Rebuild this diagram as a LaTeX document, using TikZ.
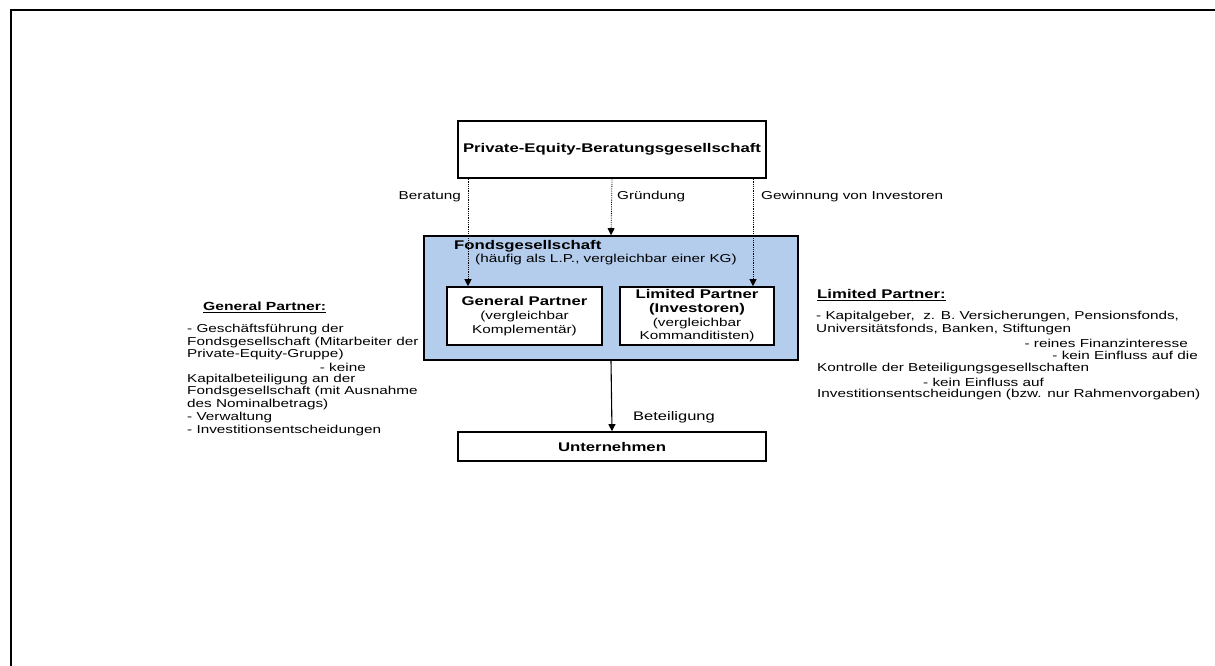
\documentclass[tikz,border=0pt]{standalone}
\usepackage{fontspec}
\setmainfont[FakeStretch=1.33]{Liberation Sans}
\usetikzlibrary{arrows.meta}
\definecolor{fondsblue}{RGB}{180,205,236}
\newcommand\fsn{\fontsize{11.5}{12.6}\selectfont}
\newcommand\fsb{\fontsize{12.6}{14}\selectfont\bfseries}
\begin{document}
\begin{tikzpicture}[x=1pt,y=-1pt,
  boxst/.style={draw=black,line width=1.6pt,inner sep=0pt,minimum width=#1},
  txt/.style={inner sep=0pt,font=\fsn},
  dotarrow/.style={densely dotted,line width=0.8pt,-{Triangle[width=7pt,length=7pt]}},
  solarrow/.style={line width=1.1pt,-{Triangle[width=7pt,length=7pt]}}]
\useasboundingbox (0,0) rectangle (1215,666);
\draw[line width=2pt] (11,666) -- (11,10) -- (1215,10);
% boxes
\node[boxst=308pt,minimum height=57pt,font=\fsb] (pe) at (612,149.5) {Private-Equity-Beratungsgesellschaft};
\node[boxst=374pt,minimum height=124pt,fill=fondsblue] (fonds) at (611,298) {};
\node[boxst=155pt,minimum height=58pt,fill=white,align=center,font=\fsn] (gp) at (524.5,316)
  {{\fsb General Partner}\\[1.5pt](vergleichbar\\[1.5pt]Komplement\"ar)};
\node[boxst=154pt,minimum height=58pt,fill=white,align=center,font=\fsn] (lp) at (697,316)
  {{\fsb Limited Partner}\\[1pt]{\fsb (Investoren)}\\[1pt](vergleichbar\\[1pt]Kommanditisten)};
\node[boxst=308pt,minimum height=29pt,font=\fsb] (unt) at (612,446.5) {Unternehmen};
% fonds title
\node[inner sep=0pt,font=\fsb,anchor=west] (ftitle) at (454,246) {Fondsgesellschaft};
\node[txt,anchor=west] (fsub) at (475,260) {(h\"aufig als L.P., vergleichbar einer KG)};
% connectors
\coordinate (xb) at (468,0);
\coordinate (xg) at (753,0);
\draw[dotarrow] (xb |- pe.south) -- (xb |- gp.north);
\draw[dotarrow] (pe.south) -- (fonds.north);
\draw[dotarrow] (xg |- pe.south) -- (xg |- lp.north);
\draw[solarrow] (fonds.south) -- (unt.north);
% labels
\node[txt,anchor=east] (lber) at (461,197) {Beratung};
\node[txt,anchor=west] (lgru) at (617,197) {Gr\"undung};
\node[txt,anchor=west] (lgew) at (761,197) {Gewinnung von Investoren};
\node[inner sep=0pt,font=\fontsize{12.4}{14}\selectfont,anchor=west] (lbet) at (633,417) {Beteiligung};
% left annotation
\node[inner sep=0pt,font=\fontsize{11.8}{13}\selectfont\bfseries,anchor=west] (gph) at (203,307) {\underline{General Partner:}};
\node[txt,anchor=west] (g1) at (187,330) {- Gesch\"aftsf\"uhrung der};
\node[txt,anchor=west] (g2) at (187,343) {Fondsgesellschaft (Mitarbeiter der};
\node[txt,anchor=west] (g3) at (187,355) {Private-Equity-Gruppe)};
\node[txt,anchor=east] (g4) at (366,367) {- keine};
\node[txt,anchor=west] (g5) at (187,380) {Kapitalbeteiligung an der};
\node[txt,anchor=west] (g6) at (187,392) {Fondsgesellschaft (mit Ausnahme};
\node[txt,anchor=west] (g7) at (187,405) {des Nominalbetrags)};
\node[txt,anchor=west] (g8) at (187,418) {- Verwaltung};
\node[txt,anchor=west] (g9) at (187,431) {- Investitionsentscheidungen};
% right annotation
\node[inner sep=0pt,font=\fsb,anchor=west] (lph) at (817,295) {\underline{Limited Partner:}};
\node[txt,anchor=west] (r1) at (816,317) {- Kapitalgeber,\ \ z. B. Versicherungen, Pensionsfonds,};
\node[txt,anchor=west] (r2) at (816,330) {Universit\"atsfonds, Banken,\ Stiftungen};
\node[txt,anchor=east] (r3) at (1188,343) {- reines Finanzinteresse};
\node[txt,anchor=east] (r4) at (1198,355) {- kein Einfluss auf die};
\node[txt,anchor=west] (r5) at (817,369) {Kontrolle der Beteiligungsgesellschaften};
\node[txt,anchor=west] (r6) at (923,382) {- kein Einfluss auf};
\node[txt,anchor=west] (r7) at (817,395) {Investitionsentscheidungen (bzw. nur Rahmenvorgaben)};
\end{tikzpicture}
\end{document}
